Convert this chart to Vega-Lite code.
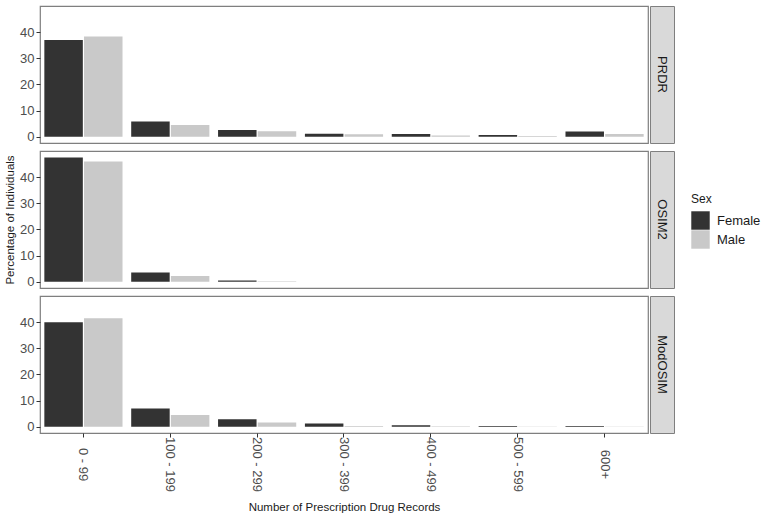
{
  "$schema": "https://vega.github.io/schema/vega-lite/v6.json",
  "padding": {"left": 3, "top": 5, "right": 5, "bottom": 5},
  "background": "white",
  "config": {
    "font": "Liberation Sans",
    "view": {"stroke": "#7f7f7f", "strokeWidth": 1.2},
    "axis": {"grid": false, "domain": false, "tickColor": "#333333", "tickSize": 4, "labelColor": "#4d4d4d", "labelFontSize": 13, "titleFontWeight": "normal", "titleColor": "#1a1a1a", "titleFontSize": 11.5},
    "concat": {"spacing": 5}
  },
  "datasets": {
    "pct": [
      {"Source": "PRDR", "Records": "0 - 99", "Sex": "Female", "Percent": 37.0},
      {"Source": "PRDR", "Records": "0 - 99", "Sex": "Male", "Percent": 38.3},
      {"Source": "PRDR", "Records": "100 - 199", "Sex": "Female", "Percent": 5.8},
      {"Source": "PRDR", "Records": "100 - 199", "Sex": "Male", "Percent": 4.5},
      {"Source": "PRDR", "Records": "200 - 299", "Sex": "Female", "Percent": 2.6},
      {"Source": "PRDR", "Records": "200 - 299", "Sex": "Male", "Percent": 2.1},
      {"Source": "PRDR", "Records": "300 - 399", "Sex": "Female", "Percent": 1.1},
      {"Source": "PRDR", "Records": "300 - 399", "Sex": "Male", "Percent": 0.9},
      {"Source": "PRDR", "Records": "400 - 499", "Sex": "Female", "Percent": 1.0},
      {"Source": "PRDR", "Records": "400 - 499", "Sex": "Male", "Percent": 0.5},
      {"Source": "PRDR", "Records": "500 - 599", "Sex": "Female", "Percent": 0.7},
      {"Source": "PRDR", "Records": "500 - 599", "Sex": "Male", "Percent": 0.3},
      {"Source": "PRDR", "Records": "600+", "Sex": "Female", "Percent": 2.0},
      {"Source": "PRDR", "Records": "600+", "Sex": "Male", "Percent": 1.0},
      {"Source": "OSIM2", "Records": "0 - 99", "Sex": "Female", "Percent": 47.5},
      {"Source": "OSIM2", "Records": "0 - 99", "Sex": "Male", "Percent": 46.0},
      {"Source": "OSIM2", "Records": "100 - 199", "Sex": "Female", "Percent": 3.5},
      {"Source": "OSIM2", "Records": "100 - 199", "Sex": "Male", "Percent": 2.2},
      {"Source": "OSIM2", "Records": "200 - 299", "Sex": "Female", "Percent": 0.5},
      {"Source": "OSIM2", "Records": "200 - 299", "Sex": "Male", "Percent": 0.2},
      {"Source": "OSIM2", "Records": "300 - 399", "Sex": "Female", "Percent": 0},
      {"Source": "OSIM2", "Records": "300 - 399", "Sex": "Male", "Percent": 0},
      {"Source": "OSIM2", "Records": "400 - 499", "Sex": "Female", "Percent": 0},
      {"Source": "OSIM2", "Records": "400 - 499", "Sex": "Male", "Percent": 0},
      {"Source": "OSIM2", "Records": "500 - 599", "Sex": "Female", "Percent": 0},
      {"Source": "OSIM2", "Records": "500 - 599", "Sex": "Male", "Percent": 0},
      {"Source": "OSIM2", "Records": "600+", "Sex": "Female", "Percent": 0},
      {"Source": "OSIM2", "Records": "600+", "Sex": "Male", "Percent": 0},
      {"Source": "ModOSIM", "Records": "0 - 99", "Sex": "Female", "Percent": 40.0},
      {"Source": "ModOSIM", "Records": "0 - 99", "Sex": "Male", "Percent": 41.5},
      {"Source": "ModOSIM", "Records": "100 - 199", "Sex": "Female", "Percent": 7.0},
      {"Source": "ModOSIM", "Records": "100 - 199", "Sex": "Male", "Percent": 4.5},
      {"Source": "ModOSIM", "Records": "200 - 299", "Sex": "Female", "Percent": 2.9},
      {"Source": "ModOSIM", "Records": "200 - 299", "Sex": "Male", "Percent": 1.6},
      {"Source": "ModOSIM", "Records": "300 - 399", "Sex": "Female", "Percent": 1.2},
      {"Source": "ModOSIM", "Records": "300 - 399", "Sex": "Male", "Percent": 0.3},
      {"Source": "ModOSIM", "Records": "400 - 499", "Sex": "Female", "Percent": 0.6},
      {"Source": "ModOSIM", "Records": "400 - 499", "Sex": "Male", "Percent": 0.2},
      {"Source": "ModOSIM", "Records": "500 - 599", "Sex": "Female", "Percent": 0.3},
      {"Source": "ModOSIM", "Records": "500 - 599", "Sex": "Male", "Percent": 0.1},
      {"Source": "ModOSIM", "Records": "600+", "Sex": "Female", "Percent": 0.3},
      {"Source": "ModOSIM", "Records": "600+", "Sex": "Male", "Percent": 0.1}
    ],
    "strips": [
      {"Source": "PRDR"},
      {"Source": "OSIM2"},
      {"Source": "ModOSIM"}
    ]
  },
  "resolve": {"scale": {"color": "shared"}, "legend": {"color": "shared"}},
  "vconcat": [
    {
      "spacing": 0,
      "hconcat": [
        {
          "width": 608, "height": 137,
          "data": {"name": "pct"},
          "transform": [{"filter": "datum.Source === 'PRDR'"}],
          "mark": {"type": "bar"},
          "encoding": {
            "x": {"field": "Records", "type": "nominal", "sort": null, "axis": null, "scale": {"paddingInner": 0.1, "paddingOuter": 0.05}},
            "xOffset": {"field": "Sex", "type": "nominal", "scale": {"paddingInner": 0.03}},
            "y": {"field": "Percent", "type": "quantitative", "scale": {"domain": [-2.4, 50], "nice": false}, "axis": {"values": [0, 10, 20, 30, 40], "title": null}},
            "color": {"field": "Sex", "type": "nominal", "scale": {"domain": ["Female", "Male"], "range": ["#333333", "#c9c9c9"]}, "legend": {"orient": "none", "legendX": 651, "legendY": 188, "title": "Sex", "titleFontWeight": "normal", "titleFontSize": 12, "titleColor": "#1a1a1a", "labelFontSize": 13, "labelColor": "#1a1a1a", "symbolType": "square", "symbolSize": 340, "symbolStrokeWidth": 0, "rowPadding": 0, "labelOffset": 7}}
          }
        },
        {
          "width": 24, "height": 137,
          "view": {"fill": "#d9d9d9", "stroke": "#7f7f7f"},
          "data": {"name": "strips"},
          "transform": [{"filter": "datum.Source === 'PRDR'"}],
          "mark": {"type": "text", "angle": 90, "fontSize": 13, "color": "#1a1a1a", "align": "center", "baseline": "middle"},
          "encoding": {"text": {"field": "Source"}}
        }
      ]
    },
    {
      "spacing": 0,
      "hconcat": [
        {
          "width": 608, "height": 137,
          "data": {"name": "pct"},
          "transform": [{"filter": "datum.Source === 'OSIM2'"}],
          "mark": {"type": "bar"},
          "encoding": {
            "x": {"field": "Records", "type": "nominal", "sort": null, "axis": null, "scale": {"paddingInner": 0.1, "paddingOuter": 0.05}},
            "xOffset": {"field": "Sex", "type": "nominal", "scale": {"paddingInner": 0.03}},
            "y": {"field": "Percent", "type": "quantitative", "scale": {"domain": [-2.4, 50], "nice": false}, "axis": {"values": [0, 10, 20, 30, 40], "title": "Percentage of Individuals", "titlePadding": 4}},
            "color": {"field": "Sex", "type": "nominal"}
          }
        },
        {
          "width": 24, "height": 137,
          "view": {"fill": "#d9d9d9", "stroke": "#7f7f7f"},
          "data": {"name": "strips"},
          "transform": [{"filter": "datum.Source === 'OSIM2'"}],
          "mark": {"type": "text", "angle": 90, "fontSize": 13, "color": "#1a1a1a", "align": "center", "baseline": "middle"},
          "encoding": {"text": {"field": "Source"}}
        }
      ]
    },
    {
      "spacing": 0,
      "hconcat": [
        {
          "width": 608, "height": 137,
          "data": {"name": "pct"},
          "transform": [{"filter": "datum.Source === 'ModOSIM'"}],
          "mark": {"type": "bar"},
          "encoding": {
            "x": {"field": "Records", "type": "nominal", "sort": null, "scale": {"paddingInner": 0.1, "paddingOuter": 0.05}, "axis": {"title": "Number of Prescription Drug Records", "labelAngle": 90, "labelAlign": "center", "labelBaseline": "middle", "labelPadding": 27, "titlePadding": 10}},
            "xOffset": {"field": "Sex", "type": "nominal", "scale": {"paddingInner": 0.03}},
            "y": {"field": "Percent", "type": "quantitative", "scale": {"domain": [-2.4, 50], "nice": false}, "axis": {"values": [0, 10, 20, 30, 40], "title": null}},
            "color": {"field": "Sex", "type": "nominal"}
          }
        },
        {
          "width": 24, "height": 137,
          "view": {"fill": "#d9d9d9", "stroke": "#7f7f7f"},
          "data": {"name": "strips"},
          "transform": [{"filter": "datum.Source === 'ModOSIM'"}],
          "mark": {"type": "text", "angle": 90, "fontSize": 13, "color": "#1a1a1a", "align": "center", "baseline": "middle"},
          "encoding": {"text": {"field": "Source"}}
        }
      ]
    }
  ]
}
